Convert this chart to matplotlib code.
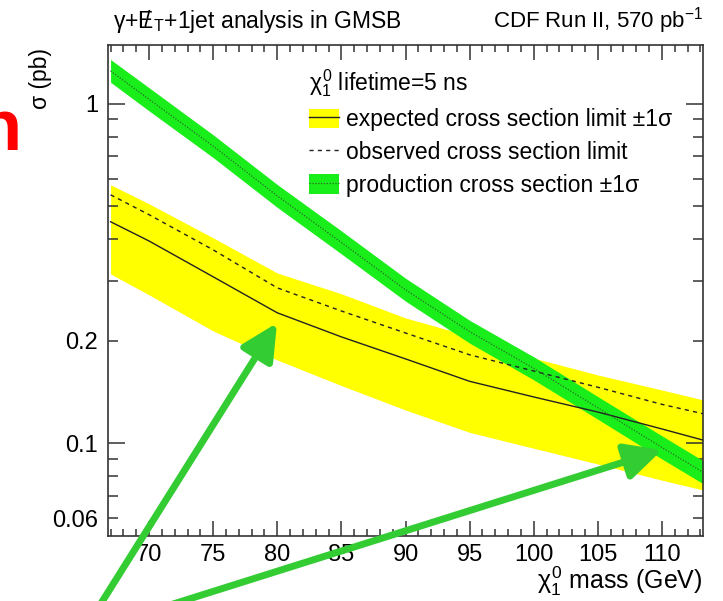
import matplotlib
matplotlib.use("Agg")
import matplotlib.pyplot as plt
from matplotlib.patches import Patch
from matplotlib.lines import Line2D

plt.rcParams['font.family'] = ['Liberation Sans', 'DejaVu Sans']
plt.rcParams['mathtext.fontset'] = 'custom'
plt.rcParams['mathtext.rm'] = 'Liberation Sans'
plt.rcParams['mathtext.it'] = 'Liberation Sans'
plt.rcParams['mathtext.bf'] = 'Liberation Sans:bold'

# ---------------- data ----------------
mass = [67, 70, 75, 80, 85, 90, 95, 100, 105, 110, 113.2]
expected = [0.449, 0.394, 0.309, 0.242, 0.2055, 0.177, 0.152, 0.1367, 0.1234, 0.110, 0.102]
expected_up = [0.577, 0.507, 0.4025, 0.317, 0.2753, 0.2337, 0.2068, 0.178, 0.1587, 0.1433, 0.134]
expected_down = [0.315, 0.2734, 0.214, 0.1757, 0.1477, 0.1251, 0.1075, 0.0965, 0.0867, 0.0777, 0.0727]
observed = [0.539, 0.471, 0.371, 0.2866, 0.245, 0.211, 0.182, 0.163, 0.146, 0.130, 0.122]
production = [1.25, 1.03, 0.75, 0.535, 0.39, 0.283, 0.213, 0.166, 0.127, 0.097, 0.082]
production_up = [1.35, 1.115, 0.81, 0.578, 0.422, 0.306, 0.230, 0.1795, 0.137, 0.105, 0.0887]
production_down = [1.157, 0.953, 0.694, 0.495, 0.361, 0.262, 0.197, 0.1535, 0.1175, 0.0897, 0.0759]

x_major = [70, 75, 80, 85, 90, 95, 100, 105, 110]
y_major = [0.1, 1]
y_major_labels = ['0.1', '1']
y_minor = [0.06, 0.07, 0.08, 0.09, 0.2, 0.3, 0.4, 0.5, 0.6, 0.7, 0.8, 0.9]
y_minor_labels = ['0.06', '', '', '', '0.2', '', '', '', '', '', '', '']

legend_title = r'$\chi^{0}_{1}$ lifetime=5 ns'
legend_labels = ['expected cross section limit \u00b11\u03c3',
                 'observed cross section limit',
                 'production cross section \u00b11\u03c3']

YELLOW = '#ffff00'
GREEN = '#1aee1a'
ARROW = '#33cc33'
AXC = '#333333'

W, H = 723, 601
fig = plt.figure(figsize=(W / 100, H / 100), dpi=100)
ax = fig.add_axes([108 / W, 1 - 536 / H, (703 - 108) / W, (536 - 45) / H])

ax.fill_between(mass, expected_down, expected_up, color=YELLOW, lw=0, zorder=1)
ax.fill_between(mass, production_down, production_up, color=GREEN, lw=0, zorder=2)
ax.plot(mass, expected, color='#222222', lw=1.0, zorder=3)
ax.plot(mass, observed, color='#222222', lw=1.0, ls=(0, (3, 3)), zorder=3)
ax.plot(mass, production, color='#2a6a2a', lw=0.9, ls=(0, (1, 1.3)), zorder=3)

ax.set_yscale('log')
ax.set_xlim(66.8, 113.2)
ax.set_ylim(0.0532, 1.49)

ax.set_xticks(x_major)
ax.set_xticks(list(range(67, 114)), minor=True)
ax.set_yticks(y_major, y_major_labels)
ax.set_yticks(y_minor, y_minor_labels, minor=True)

for s in ax.spines.values():
    s.set_color(AXC)
    s.set_linewidth(1.2)
ax.tick_params(which='both', direction='in', top=True, right=True, color=AXC,
               width=1.1, labelsize=17, labelcolor='black')
ax.tick_params(axis='x', which='major', length=11, pad=6)
ax.tick_params(axis='x', which='minor', length=5)
ax.tick_params(axis='y', which='major', length=12, pad=7)
ax.tick_params(axis='y', which='minor', length=7, pad=7)

handles = [(Patch(facecolor=YELLOW, lw=0), Line2D([], [], color='#222222', lw=1.0)),
           Line2D([], [], color='#222222', lw=1.0, ls=(0, (3, 3))),
           (Patch(facecolor=GREEN, lw=0), Line2D([], [], color='#2a6a2a', lw=0.9, ls=(0, (1, 1.3))))]
leg = ax.legend(handles, legend_labels, title=legend_title, loc='upper left',
                bbox_to_anchor=(309 / W, 1 - 67 / H), bbox_transform=fig.transFigure,
                frameon=False, fontsize=16.5, title_fontsize=16.5, handlelength=1.3,
                handleheight=0.95, handletextpad=0.3, labelspacing=0.42,
                borderpad=0, borderaxespad=0, alignment='left')

# titles and axis labels
fig.text(113 / W, 1 - 28 / H, r'$\gamma$+$\mathrm{E}\!\!\!/\,{}_{\mathrm{T}}$+1jet analysis in GMSB',
         ha='left', va='baseline', fontsize=16.5)
fig.text(703 / W, 1 - 28 / H, r'CDF Run II, 570 pb$^{\mathrm{-1}}$',
         ha='right', va='baseline', fontsize=16)
fig.text(40 / W, 1 - 48 / H, '\u03c3 (pb)', rotation=90, ha='center', va='top', fontsize=16.5)
fig.text(703 / W, 1 - 589 / H, r'$\chi^{0}_{1}$ mass (GeV)', ha='right', va='baseline', fontsize=18)

# red fragment at the left edge
fig.text(21 / W, 1 - 150 / H, 'n', color='red', fontsize=52, fontweight='bold',
         ha='right', va='baseline')

# green arrows
for tail, tip in [((100, -4), (277, H - 323)), ((170, -4), (662, H - 450))]:
    ax.annotate('', xy=tip, xycoords='figure pixels', xytext=tail, textcoords='figure pixels',
                arrowprops=dict(arrowstyle='-|>,head_length=1.1,head_width=0.55', color=ARROW,
                                lw=5, shrinkA=0, shrinkB=0, mutation_scale=20),
                annotation_clip=False, zorder=10)

fig.savefig('out.png', dpi=100)
